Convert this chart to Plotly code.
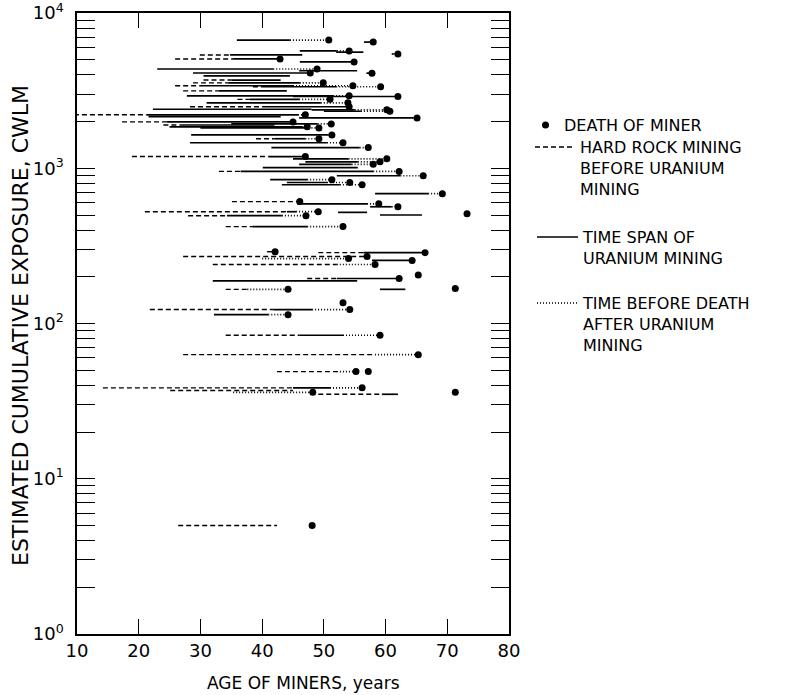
import plotly.graph_objects as go

# ---------------- data ----------------
# one entry per miner: cumulative exposure (CWLM), age at start of hard-rock mining,
# age at start / end of uranium mining, age at death (None = not drawn)
exposure = [6700, 6500, 5700, 5600, 5450, 5370, 5060, 4840, 4360, 4250,
            4110, 4100, 3940, 3700, 3550, 3400, 3350, 3150, 2930, 2900,
            2780, 2640, 2490, 2400, 2380, 2330, 2210, 2150, 2110, 1990,
            1900, 1850, 1820, 1930, 1640, 1550, 1460, 1360, 1190, 1150,
            1100, 1060, 1010, 955, 895, 845, 810, 783, 686, 610,
            590, 565, 525, 520, 495, 500, 510, 421, 290, 286,
            270, 255, 262, 240, 195, 205, 188, 166, 166, 168,
            136, 123, 114, 84, 63, 49, 49, 38.5, 37, 36,
            35, 36, 5, 5]
hard_rock_start = [None, None, None, None, None, 29.9, 25.9, None, None, None,
                   None, None, None, 30.5, 28.8, 25.9, 38.5, 27.2, None, None,
                   36.0, None, 28.3, None, None, None, 9.5, None, None, 17.3,
                   24.0, None, None, None, None, 39.0, None, None, 18.9, None,
                   None, None, None, 33.0, None, None, None, None, None, 35.1,
                   None, None, 21.0, None, 28.0, None, None, 34.1, 40.8, 49.1,
                   27.2, None, None, 32.0, 47.3, None, None, 34.1, None, None,
                   None, 21.8, None, 34.1, 27.2, 42.4, None, 14.2, 25.1, None,
                   47.8, None, 26.4, None]
uranium_start = [35.9, 56.5, 46.1, 52.0, 61.0, 34.8, 35.3, 46.1, 23.0, 46.0,
                 28.8, 56.9, 30.5, 35.0, 34.5, 29.9, 40.0, 33.0, 27.8, 45.0,
                 38.0, 31.0, 40.0, 22.3, 48.0, 50.0, 21.3, 21.6, 46.0, 24.6,
                 27.0, 25.0, 30.0, 35.0, 28.5, 42.0, 28.3, 41.5, 41.0, 45.0,
                 47.0, 46.0, 40.1, 36.5, 52.1, 41.3, 44.0, 43.2, 58.3, 45.5,
                 45.7, 57.5, 44.0, 52.3, 34.3, 59.1, None, 38.4, 41.8, 56.4,
                 57.0, 57.8, None, 52.1, 52.1, None, 32.0, 37.6, 59.1, None,
                 None, 41.8, 32.2, 46.1, 58.3, 52.6, None, 45.0, 45.0, None,
                 59.4, None, 42.4, None]
uranium_end = [44.5, 57.6, 52.1, 56.4, 61.3, 46.5, 42.6, 54.6, 41.8, 55.4,
               47.6, 57.6, 44.5, 43.0, 46.1, 45.0, 52.0, 44.0, 51.5, 62.0,
               46.0, 49.5, 53.6, 48.0, 55.0, 56.0, 45.8, 43.0, 64.5, 44.5,
               42.0, 46.5, 47.5, 49.0, 50.8, 47.0, 50.5, 55.8, 46.5, 54.0,
               55.5, 54.5, 55.5, 58.0, 62.4, 47.3, 50.5, 52.6, 66.9, 45.7,
               57.0, 61.0, 45.5, 57.0, 43.2, 65.9, None, 47.3, 41.8, 66.1,
               None, 64.0, 40.0, 52.1, 62.2, None, 55.4, 37.6, 63.2, None,
               None, 48.1, 41.0, 53.1, 58.3, 52.6, None, 51.0, None, 35.3,
               62.0, None, None, None]
death_age = [50.8, 58.0, 54.1, None, 62.0, None, 42.9, 54.9, 48.9, None,
             47.8, 57.8, None, None, 49.9, 54.7, 59.2, None, 54.1, 62.0,
             51.0, 53.9, 54.1, None, 60.2, 60.7, 47.0, None, 65.1, 45.0,
             None, 47.3, 49.2, 51.2, 51.3, 49.2, 53.1, 57.2, 47.0, 60.2,
             59.1, 58.0, None, 62.2, 66.1, 51.3, 54.2, 56.2, 69.2, 46.1,
             58.9, 62.0, 49.1, None, 47.1, None, 73.2, 53.1, 42.1, 66.4,
             57.0, 64.3, 54.0, 58.3, 62.2, 65.3, None, 44.2, None, 71.3,
             53.1, 54.2, 44.2, 59.1, 65.3, 55.2, 57.2, 56.2, None, 48.2,
             None, 71.3, None, 48.1]

x_ticks = [10, 20, 30, 40, 50, 60, 70, 80]
y_decades = [1, 10, 100, 1000, 10000]
y_labels = ["10<sup>0</sup>", "10<sup>1</sup>", "10<sup>2</sup>", "10<sup>3</sup>", "10<sup>4</sup>"]

legend_texts = ["DEATH OF MINER",
                "HARD ROCK MINING<br>BEFORE URANIUM<br>MINING",
                "TIME SPAN OF<br>URANIUM MINING",
                "TIME BEFORE DEATH<br>AFTER URANIUM<br>MINING"]

# ---------------- build segments ----------------
def seg(starts, ends):
    xs, ys = [], []
    for v, a, b in zip(exposure, starts, ends):
        if a is None or b is None:
            continue
        xs += [a, b, None]
        ys += [v, v, None]
    return xs, ys

dx, dy = seg(hard_rock_start, uranium_start)
sx, sy = seg(uranium_start, uranium_end)
tx, ty = seg(uranium_end, death_age)
mx = [d for d in death_age if d is not None]
my = [v for v, d in zip(exposure, death_age) if d is not None]

FONT = "DejaVu Sans"
fig = go.Figure()
fig.add_trace(go.Scatter(x=dx, y=dy, mode="lines",
                         line=dict(color="black", width=1.4, dash="5px,3px"), hoverinfo="skip"))
fig.add_trace(go.Scatter(x=sx, y=sy, mode="lines",
                         line=dict(color="black", width=1.7), hoverinfo="skip"))
fig.add_trace(go.Scatter(x=tx, y=ty, mode="lines",
                         line=dict(color="black", width=1.7, dash="1px,2px"), hoverinfo="skip"))
fig.add_trace(go.Scatter(x=mx, y=my, mode="markers",
                         marker=dict(color="black", size=7), hoverinfo="skip"))

# y ticks: every 1..9 x decade, labels only on decades
yvals, ytext = [], []
for k in range(4):
    for m in range(1, 10):
        yvals.append(m * 10 ** k)
        ytext.append(y_labels[k] if m == 1 else "")
yvals.append(10000)
ytext.append(y_labels[4])

W, H = 793, 695
L, R, T, B = 77, 509, 13, 634

fig.update_layout(
    width=W, height=H,
    margin=dict(l=L, r=W - R, t=T, b=H - B),
    paper_bgcolor="white", plot_bgcolor="white",
    showlegend=False,
    font=dict(family=FONT, color="black", size=17),
)
fig.update_xaxes(range=[10, 80], tickvals=x_ticks, ticktext=[str(v) for v in x_ticks],
                 ticks="inside", ticklen=15, tickwidth=1.3, tickcolor="black",
                 showline=True, linecolor="black", linewidth=1.5, mirror="allticks",
                 showgrid=False, zeroline=False, tickfont=dict(size=18, family=FONT),
                 ticklabeloverflow="allow", automargin=False)
fig.update_yaxes(type="log", range=[-0.0003, 4.0003], tickvals=yvals, ticktext=ytext,
                 ticks="inside", ticklen=18, tickwidth=1.2, tickcolor="black",
                 showline=True, linecolor="black", linewidth=1.5, mirror="allticks",
                 showgrid=False, zeroline=False, tickfont=dict(size=18, family=FONT),
                 ticklabelstandoff=8, ticklabeloverflow="allow", automargin=False)

def px(xp):
    return (xp - L) / (R - L)

def py(yp):
    return 1 - (yp - T) / (B - T)

ann = []
# axis titles
ann.append(dict(text="AGE OF MINERS, years", x=px(303), y=py(683), xref="paper", yref="paper",
                showarrow=False, font=dict(size=17, family=FONT), xanchor="center", yanchor="middle"))
ann.append(dict(text="ESTIMATED CUMULATIVE EXPOSURE, CWLM", x=px(20), y=py(326), xref="paper", yref="paper",
                showarrow=False, textangle=-90, font=dict(size=22, family=FONT),
                xanchor="center", yanchor="middle"))

# legend
shapes = []
shapes.append(dict(type="circle", xref="paper", yref="paper", x0=px(542), x1=px(549),
                   y0=py(128.5), y1=py(121.5), fillcolor="black", line=dict(width=0)))
ann.append(dict(text=legend_texts[0], x=px(562), y=py(125), xref="paper", yref="paper",
                showarrow=False, xanchor="left", yanchor="middle", font=dict(size=16, family=FONT)))
shapes.append(dict(type="line", xref="paper", yref="paper", x0=px(535), x1=px(573),
                   y0=py(147), y1=py(147), line=dict(color="black", width=1.4, dash="5px,3px")))
ann.append(dict(text=legend_texts[1], x=px(578), y=py(147), xref="paper", yref="paper",
                showarrow=False, xanchor="left", yanchor="top", align="left",
                font=dict(size=16, family=FONT), yshift=11))
shapes.append(dict(type="line", xref="paper", yref="paper", x0=px(537), x1=px(578),
                   y0=py(237), y1=py(237), line=dict(color="black", width=1.7)))
ann.append(dict(text=legend_texts[2], x=px(580), y=py(237), xref="paper", yref="paper",
                showarrow=False, xanchor="left", yanchor="top", align="left",
                font=dict(size=16, family=FONT), yshift=11))
shapes.append(dict(type="line", xref="paper", yref="paper", x0=px(537), x1=px(578),
                   y0=py(303), y1=py(303), line=dict(color="black", width=1.7, dash="1px,2px")))
ann.append(dict(text=legend_texts[3], x=px(580), y=py(303), xref="paper", yref="paper",
                showarrow=False, xanchor="left", yanchor="top", align="left",
                font=dict(size=16, family=FONT), yshift=11))

fig.update_layout(annotations=ann, shapes=shapes)
fig.write_html("out.html")
